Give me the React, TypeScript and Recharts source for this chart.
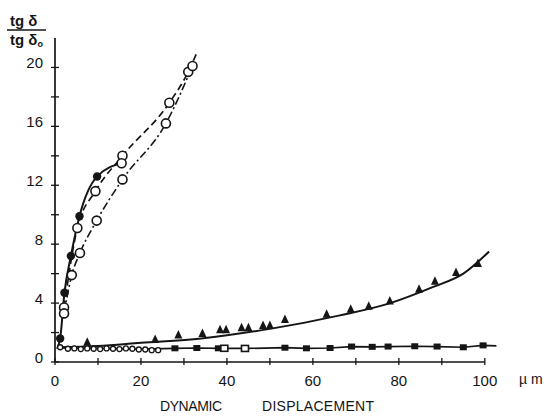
import { ComposedChart, Line, Scatter, XAxis, YAxis, ReferenceLine } from 'recharts';

const INK = '#151515';
const FONT = '"Liberation Sans", Arial, sans-serif';

// steep group (small displacement)
const solidX = [0.6, 1.2, 2.2, 3.7, 5.7, 9.8, 15.5];
const solidY = [1.0, 1.6, 4.7, 7.2, 9.9, 12.6, 13.5];
const filledX = [1.2, 2.2, 3.7, 5.7, 9.8];
const filledY = [1.6, 4.7, 7.2, 9.9, 12.6];

const dashX = [2.1, 5.2, 9.4, 15.7, 26.6, 31.0, 33.0];
const dashY = [3.7, 9.1, 11.6, 14.0, 17.6, 19.7, 21.0];
const dashDotX = [2.1, 3.9, 5.8, 9.7, 15.7, 25.8, 32.0];
const dashDotY = [3.3, 5.9, 7.4, 9.6, 12.4, 16.2, 20.1];
const openX = [2.1, 5.2, 9.4, 15.7, 15.5, 26.6, 31.0, 2.1, 3.9, 5.8, 9.7, 15.7, 25.8, 32.0];
const openY = [3.7, 9.1, 11.6, 14.0, 13.5, 17.6, 19.7, 3.3, 5.9, 7.4, 9.6, 12.4, 16.2, 20.1];

// triangles, rising curve
const triLineX = [0.5, 10, 20, 34, 50, 66, 78, 88, 95, 101];
const triLineY = [1.0, 1.08, 1.3, 1.6, 2.25, 3.15, 4.0, 5.1, 6.0, 7.5];
const triX = [7.5, 23.3, 28.7, 34.3, 38.4, 39.8, 43.4, 45.0, 48.4, 50.0, 53.5, 63.2, 68.8, 73.0, 77.9, 84.7, 88.4, 93.3, 98.4];
const triY = [1.3, 1.5, 1.8, 1.9, 2.15, 2.15, 2.3, 2.3, 2.45, 2.45, 2.85, 3.2, 3.55, 3.75, 4.1, 4.9, 5.45, 6.05, 6.65];

// squares, flat baseline
const baseX = [0.3, 10, 20, 27.9, 33, 38.5, 44.2, 53.5, 58.5, 64, 69, 73.8, 77.5, 83.7, 88.9, 95, 99.6, 102.7];
const baseY = [0.95, 0.92, 0.88, 0.93, 0.95, 0.93, 0.92, 0.97, 0.93, 0.95, 1.05, 1.03, 1.05, 1.07, 1.05, 1.0, 1.13, 1.1];
const sqX = [27.9, 33, 38.0, 53.5, 58.5, 64, 69, 73.8, 77.5, 83.7, 88.9, 95, 99.6];
const sqY = [0.93, 0.95, 0.93, 0.97, 0.93, 0.95, 1.05, 1.03, 1.05, 1.07, 1.05, 1.0, 1.13];
const sqOpenX = [39.4, 44.2];
const sqOpenY = [0.93, 0.92];
const smallX = [1.2, 3, 4.5, 6, 7.5, 9, 10.5, 12, 13.5, 15, 16.5, 18, 19.5, 21, 22.5, 24];
const smallY = [1.0, 0.9, 0.92, 0.88, 0.92, 0.9, 0.88, 0.92, 0.9, 0.88, 0.92, 0.9, 0.85, 0.85, 0.8, 0.8];

const xTicks = [0, 10, 20, 30, 40, 50, 60, 70, 80, 90, 100];
const yTicks = [0, 2, 4, 6, 8, 10, 12, 14, 16, 18, 20];

const pts = (xs: number[], ys: number[]) => xs.map((x, i) => ({ x, y: ys[i] }));

const FilledDot = ({ cx, cy }: any) => <circle cx={cx} cy={cy} r={4.2} fill={INK} />;
const OpenDot = ({ cx, cy }: any) => <circle cx={cx} cy={cy} r={4.5} fill="#fff" stroke={INK} strokeWidth={1.6} />;
const SmallDot = ({ cx, cy }: any) => <circle cx={cx} cy={cy} r={2.5} fill="#fff" stroke={INK} strokeWidth={1.3} />;
const Tri = ({ cx, cy }: any) => (
  <path d={`M${cx},${cy - 5.5} L${cx + 4},${cy + 3} L${cx - 4},${cy + 3} Z`} fill={INK} />
);
const Sq = ({ cx, cy }: any) => <rect x={cx - 3.5} y={cy - 3} width={7} height={6} fill={INK} />;
const SqOpen = ({ cx, cy }: any) => (
  <rect x={cx - 3.5} y={cy - 3} width={7} height={6} fill="#fff" stroke={INK} strokeWidth={1.6} />
);

function XTick({ x, y, payload }: any) {
  const v = payload.value;
  return (
    <g>
      <line x1={x} x2={x} y1={y - 4} y2={y + 3} stroke={INK} strokeWidth={1.3} />
      {v % 20 === 0 && (
        <text x={x} y={y + 24} textAnchor="middle" fontSize={15} fontFamily={FONT} fill={INK}>
          {v}
        </text>
      )}
    </g>
  );
}

function YTick({ x, y, payload }: any) {
  const v = payload.value;
  return (
    <g>
      <line x1={x - 4} x2={x + 4} y1={y} y2={y} stroke={INK} strokeWidth={1.3} />
      {v % 4 === 0 && (
        <text x={x - 12} y={y + 1} textAnchor="end" fontSize={15} fontFamily={FONT} fill={INK}>
          {v}
        </text>
      )}
    </g>
  );
}

export default function App() {
  return (
    <div style={{ position: 'absolute', left: 0, top: 0, width: 552, height: 420, background: '#fff' }}>
      <ComposedChart width={552} height={420} margin={{ top: 38, right: 50, bottom: 28, left: 15 }}>
        <XAxis
          type="number"
          dataKey="x"
          domain={[0, 104]}
          ticks={xTicks}
          interval={0}
          axisLine={false}
          tickLine={false}
          tickSize={0}
          tickMargin={0}
          height={30}
          tick={<XTick />}
        />
        <YAxis
          type="number"
          dataKey="y"
          domain={[0, 22]}
          ticks={yTicks}
          interval={0}
          width={40}
          axisLine={{ stroke: INK, strokeWidth: 1.7 }}
          tickLine={false}
          tickSize={0}
          tickMargin={0}
          tick={<YTick />}
        />
        <ReferenceLine segment={[{ x: 0, y: 0 }, { x: 100, y: 0 }]} stroke={INK} strokeWidth={1.7} ifOverflow="visible" />

        <Line data={pts(baseX, baseY)} dataKey="y" type="linear" stroke={INK} strokeWidth={1.7} dot={false} isAnimationActive={false} />
        <Line data={pts(triLineX, triLineY)} dataKey="y" type="monotone" stroke={INK} strokeWidth={2} dot={false} isAnimationActive={false} />
        <Line data={pts(solidX, solidY)} dataKey="y" type="monotone" stroke={INK} strokeWidth={2} dot={false} isAnimationActive={false} />
        <Line data={pts(dashX, dashY)} dataKey="y" type="monotone" stroke={INK} strokeWidth={1.7} strokeDasharray="7 4" dot={false} isAnimationActive={false} />
        <Line data={pts(dashDotX, dashDotY)} dataKey="y" type="monotone" stroke={INK} strokeWidth={1.6} strokeDasharray="8 3 2 3" dot={false} isAnimationActive={false} />

        <Scatter data={pts(smallX, smallY)} dataKey="y" shape={SmallDot} isAnimationActive={false} />
        <Scatter data={pts(sqX, sqY)} dataKey="y" shape={Sq} isAnimationActive={false} />
        <Scatter data={pts(sqOpenX, sqOpenY)} dataKey="y" shape={SqOpen} isAnimationActive={false} />
        <Scatter data={pts(triX, triY)} dataKey="y" shape={Tri} isAnimationActive={false} />
        <Scatter data={pts(openX, openY)} dataKey="y" shape={OpenDot} isAnimationActive={false} />
        <Scatter data={pts(filledX, filledY)} dataKey="y" shape={FilledDot} isAnimationActive={false} />
      </ComposedChart>

      <svg width={552} height={420} style={{ position: 'absolute', left: 0, top: 0, pointerEvents: 'none' }}>
        <g fontFamily={FONT} fill={INK} fontWeight="bold">
          <text x={10} y={26} fontSize={15}>tg δ</text>
          <line x1={7} x2={46} y1={30} y2={30} stroke={INK} strokeWidth={1.6} />
          <text x={10} y={45} fontSize={15}>
            tg δ<tspan fontSize={9} dy={2}>o</tspan>
          </text>
        </g>
        <text x={519} y={384} fontSize={14} fontFamily={FONT} fill={INK}>µ m</text>
        <text x={160} y={411} fontSize={14} fontFamily={FONT} fill={INK} textLength={62}>DYNAMIC</text>
        <text x={262} y={411} fontSize={14} fontFamily={FONT} fill={INK} textLength={112}>DISPLACEMENT</text>
      </svg>
    </div>
  );
}
